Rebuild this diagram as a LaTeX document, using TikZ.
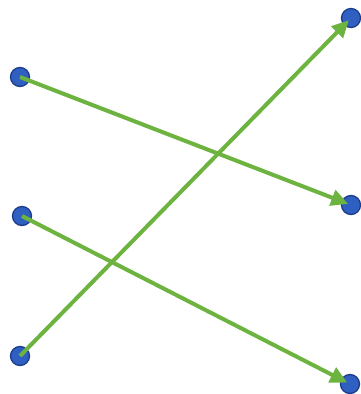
\documentclass[tikz,border=0pt]{standalone}
\usetikzlibrary{arrows.meta}
\definecolor{dotblue}{HTML}{2F5FC0}
\definecolor{dotedge}{HTML}{1C3C8C}
\definecolor{lgreen}{HTML}{6DB33F}
\tikzset{
  dotnode/.style={circle,fill=dotblue,draw=dotedge,line width=1.3pt,minimum size=19pt,inner sep=0pt},
  link/.style={lgreen,line width=4pt,-{Triangle[length=17pt,width=16pt]},shorten >=3pt}
}
\begin{document}
\begin{tikzpicture}[x=1pt,y=-1pt]
\useasboundingbox[fill=white] (0,0) rectangle (361,394);
\node[dotnode] (a) at (20,77) {};
\node[dotnode] (b) at (22,216) {};
\node[dotnode] (c) at (20,356) {};
\node[dotnode] (d) at (351,18) {};
\node[dotnode] (e) at (351,205) {};
\node[dotnode] (f) at (350,384) {};
\draw[link] (a.center) -- (e.center);
\draw[link] (b.center) -- (f.center);
\draw[link] (c.center) -- (d.center);
\end{tikzpicture}
\end{document}
